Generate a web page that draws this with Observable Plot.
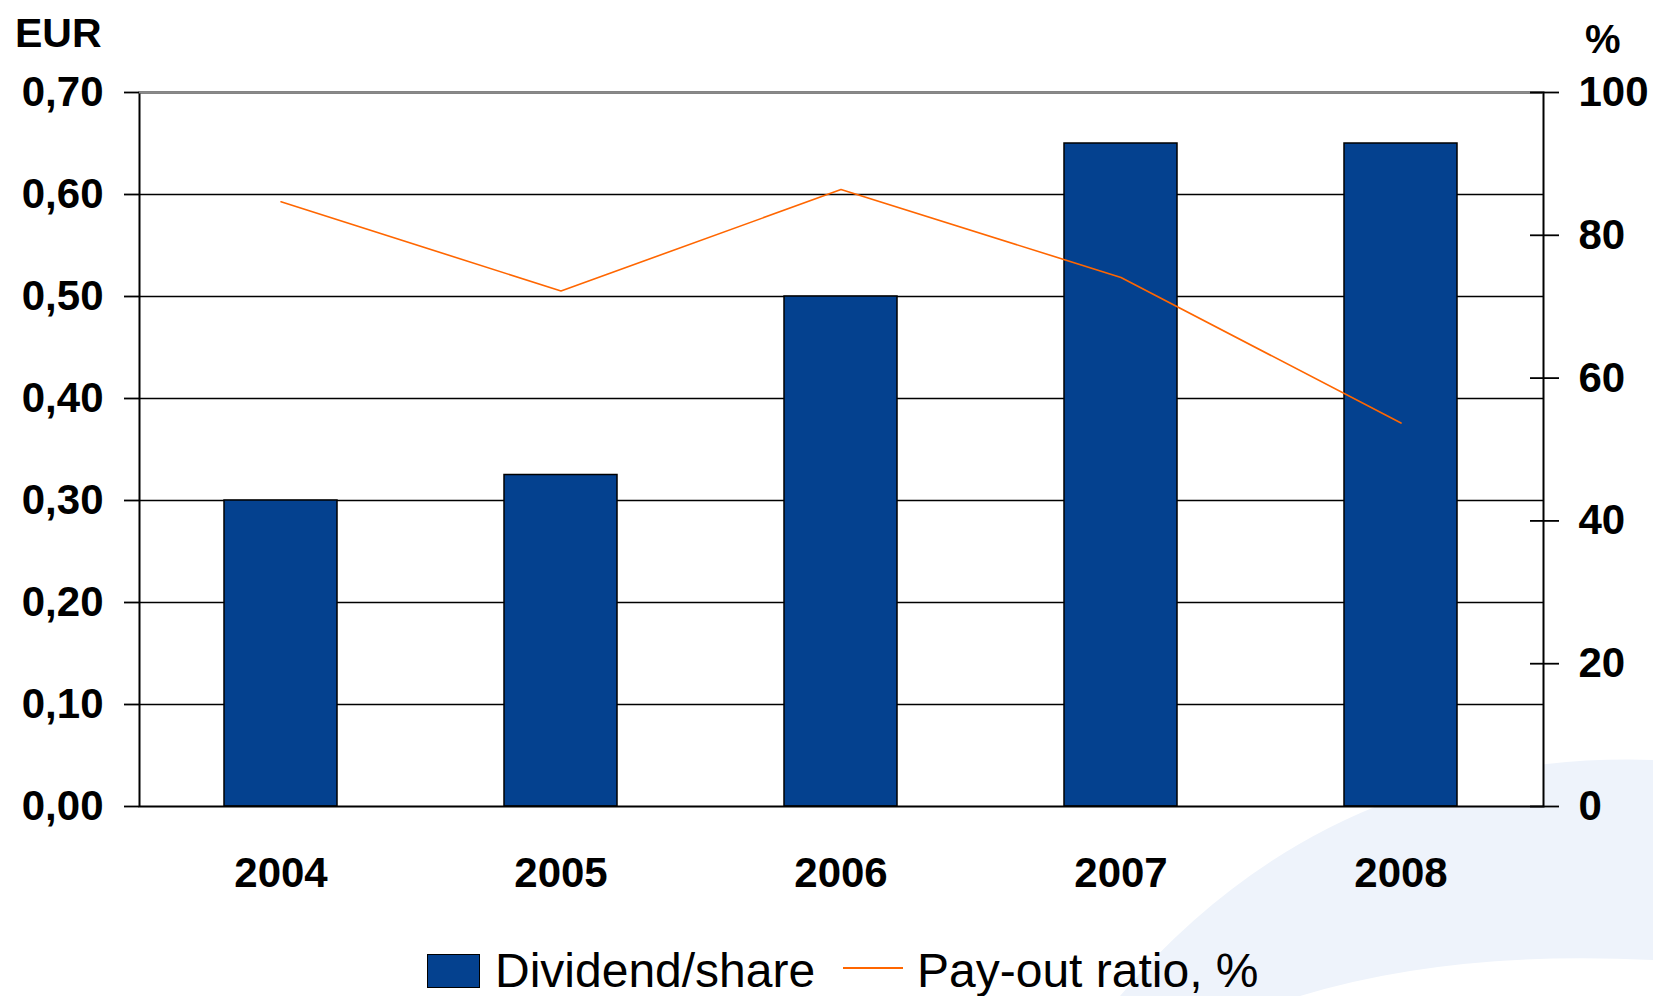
<!DOCTYPE html>
<html>
<head>
<meta charset="utf-8">
<script src="https://cdn.jsdelivr.net/npm/d3@7"></script>
<script src="https://cdn.jsdelivr.net/npm/@observablehq/plot@0.6"></script>
<style>
  html, body { margin: 0; padding: 0; background: white; }
  #page { position: relative; width: 1653px; height: 996px; overflow: hidden; font-family: "Liberation Sans", Arial, sans-serif; }
  #deco { position: absolute; left: 0; top: 0; }
  #chart { position: absolute; left: 0; top: 0; }
  .lbl { position: absolute; font-weight: bold; line-height: 1; white-space: nowrap; color: #000; }
  .leg { position: absolute; font-size: 48px; line-height: 1; white-space: nowrap; color: #000; }
</style>
</head>
<body>
<div id="page">
  <svg id="deco" width="1653" height="996">
    <path d="M1120,996 Q1330,750 1653,760 L1653,996 Z" fill="#eef3fb"/>
    <path d="M1300,996 Q1450,950 1653,960 L1653,996 Z" fill="#ffffff"/>
  </svg>
  <div id="chart"></div>
  <div class="lbl" style="left:15px; top:13px; font-size:41px;">EUR</div>
  <div class="lbl" style="left:1585px; top:19px; font-size:40px;">%</div>
  <div style="position:absolute; left:427px; top:954px; width:51px; height:32px; background:#04418f; border:1.5px solid #000;"></div>
  <div class="leg" style="left:495px; top:947px;">Dividend/share</div>
  <div style="position:absolute; left:843px; top:967px; width:60px; height:2px; background:#ff6600;"></div>
  <div class="leg" style="left:917px; top:947px;">Pay-out ratio, %</div>
</div>
<script>
// Data
const years = ["2004", "2005", "2006", "2007", "2008"];
const dividend = [0.30, 0.325, 0.50, 0.65, 0.65];      // EUR per share
const payout = [84.7, 72.2, 86.4, 74.1, 53.7];         // %
const eurTicks = [0, 0.1, 0.2, 0.3, 0.4, 0.5, 0.6, 0.7];
const pctTicks = [0, 20, 40, 60, 80, 100];

const eurMax = 0.7, pctMax = 100;
const pctToEur = p => p / pctMax * eurMax;

const rows = years.map((y, i) => ({year: y, dividend: dividend[i], payout: payout[i]}));

const chart = Plot.plot({
  width: 1653,
  height: 996,
  marginLeft: 139,
  marginRight: 110,
  marginTop: 92,
  marginBottom: 190,
  style: {background: "transparent", fontFamily: "'Liberation Sans', Arial, sans-serif", fontSize: "42px", fontWeight: "bold", color: "#000"},
  x: {domain: years, paddingInner: 0.595, paddingOuter: 0.2975, label: null},
  y: {domain: [0, eurMax], label: null},
  marks: [
    Plot.frame({fill: "white"}),
    Plot.ruleY(eurTicks.filter(t => t > 0 && t < eurMax), {stroke: "#000", strokeWidth: 1.6}),
    Plot.barY(rows, {x: "year", y: "dividend", fill: "#04418f", stroke: "#000", strokeWidth: 1.5}),
    Plot.frame({stroke: "#000", strokeWidth: 2}),
    Plot.ruleY([eurMax], {stroke: "#8a8a8a", strokeWidth: 2}),
    Plot.line(rows, {x: "year", y: d => pctToEur(d.payout), stroke: "#ff6600", strokeWidth: 1.6}),
    Plot.axisY(eurTicks, {anchor: "left", tickSize: 15, tickPadding: 21, strokeWidth: 1.8,
      tickFormat: d => d.toFixed(2).replace(".", ","), label: null}),
    Plot.axisY(pctTicks, {anchor: "right", y: d => pctToEur(d), tickSize: 29, dx: -14, tickPadding: 20, strokeWidth: 1.8,
      tickFormat: d => String(d), label: null}),
    Plot.axisX({tickSize: 0, tickPadding: 51, label: null})
  ]
});
document.getElementById("chart").appendChild(chart);
</script>
</body>
</html>
